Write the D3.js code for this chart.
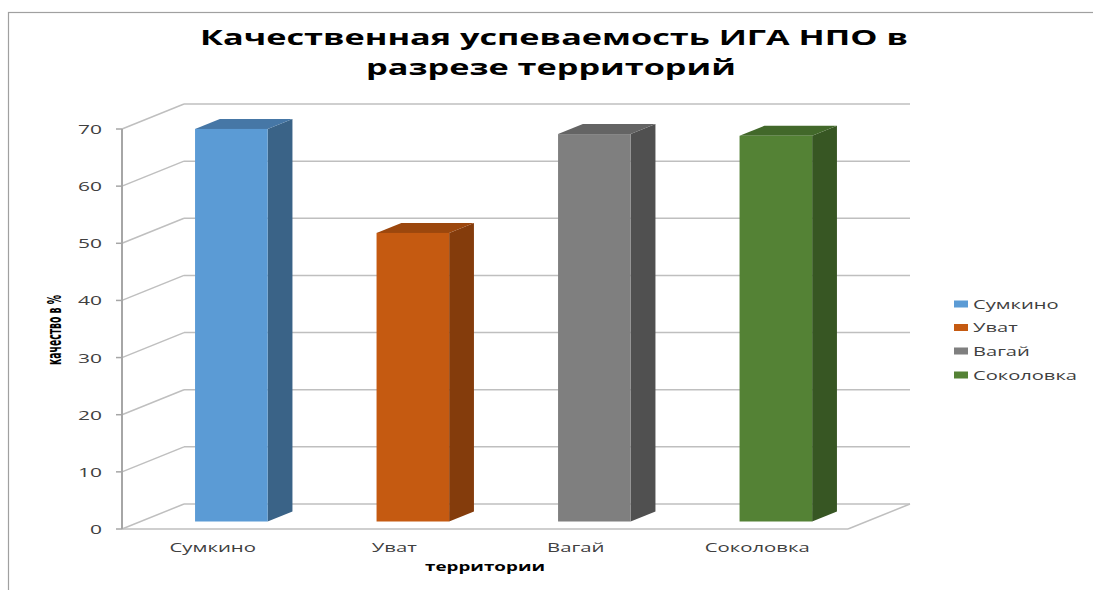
<!DOCTYPE html>
<html>
<head>
<meta charset="utf-8">
<script src="https://cdn.jsdelivr.net/npm/d3@7"></script>
<style>
  html, body { margin: 0; padding: 0; background: #fff; }
  svg { display: block; }
</style>
</head>
<body>
<svg id="chart" width="1093" height="590"></svg>
<script>
// ---- data ----
const categories = ["Сумкино", "Уват", "Вагай", "Соколовка"];
const values = [68.7, 50.5, 67.8, 67.5];
const yTicks = [0, 10, 20, 30, 40, 50, 60, 70];
const titleLines = ["Качественная успеваемость ИГА НПО в", "разрезе территорий"];
const xTitle = "территории";
const yTitle = "качество в %";

// ---- styles ----
const frontColors = ["#5B9BD5", "#C55A11", "#7F7F7F", "#548235"];
const topColors   = ["#4677A6", "#9C470D", "#646464", "#42682A"];
const sideColors  = ["#3A6387", "#843C0C", "#505050", "#375623"];
const gridColor = "#BFBFBF";
const axisColor = "#A6A6A6";
const FONT = "'Open Sans', 'DejaVu Sans', sans-serif";

const svg = d3.select("#chart");

// geometry
const x0 = 122, frontW = 726;
const DX = 62, DY = -25;          // depth offset of the back wall
const dFront = 0.3, dBack = 0.7;  // bar depth fractions

const x = d3.scaleBand().domain(categories).range([x0, x0 + frontW]).padding(0);
const y = d3.scaleLinear().domain([0, 70]).range([529, 129]);

// frame
svg.append("rect").attr("x", 8.5).attr("y", 12.5).attr("width", 1200).attr("height", 700)
  .attr("fill", "none").attr("stroke", "#A0A0A0").attr("stroke-width", 1.2);

// helper: stretch a group of texts uniformly so the reference text matches a target width
function stretchGroup(sel, refIndex, targetW) {
  const nodes = sel.nodes();
  const ref = nodes[refIndex].getComputedTextLength();
  const f = targetW / ref;
  nodes.forEach(n => {
    const w = n.getComputedTextLength();
    n.setAttribute("textLength", w * f);
    n.setAttribute("lengthAdjust", "spacingAndGlyphs");
  });
}

// gridlines: left wall diagonals + back wall horizontals
const grid = svg.append("g");
grid.selectAll("line.diag").data(yTicks).join("line")
  .attr("x1", x0).attr("y1", d => y(d))
  .attr("x2", x0 + DX).attr("y2", d => y(d) + DY)
  .attr("stroke", gridColor).attr("stroke-width", 1.5);
grid.selectAll("line.back").data(yTicks).join("line")
  .attr("x1", x0 + DX).attr("y1", d => y(d) + DY)
  .attr("x2", x0 + frontW + DX).attr("y2", d => y(d) + DY)
  .attr("stroke", gridColor).attr("stroke-width", 1.5);

// floor front edge and right edge
svg.append("line").attr("x1", x0).attr("y1", y(0)).attr("x2", x0 + frontW).attr("y2", y(0))
  .attr("stroke", gridColor).attr("stroke-width", 1.5);
svg.append("line").attr("x1", x0 + frontW).attr("y1", y(0)).attr("x2", x0 + frontW + DX).attr("y2", y(0) + DY)
  .attr("stroke", gridColor).attr("stroke-width", 1.5);

// vertical axis line + ticks
svg.append("line").attr("x1", x0).attr("y1", y(70)).attr("x2", x0).attr("y2", y(0))
  .attr("stroke", axisColor).attr("stroke-width", 2);
svg.selectAll("line.tick").data(yTicks).join("line")
  .attr("x1", x0 - 6).attr("y1", d => y(d)).attr("x2", x0).attr("y2", d => y(d))
  .attr("stroke", axisColor).attr("stroke-width", 1.5);

// tick labels
const tl = svg.append("g").selectAll("text").data(yTicks).join("text")
  .attr("x", 102).attr("y", d => y(d) + 5)
  .attr("text-anchor", "end")
  .attr("font-family", FONT).attr("font-size", 13.5).attr("fill", "#404040")
  .text(d => d);
stretchGroup(tl, 4, 24);

// bars (3D)
const bw = x.bandwidth() * 0.4;
const bars = svg.append("g");
categories.forEach((c, i) => {
  const cx = x(c) + x.bandwidth() / 2;
  const fx = cx - bw / 2 + dFront * DX;
  const fy0 = y(0) + dFront * DY;
  const fyT = y(values[i]) + dFront * DY;
  const ddx = (dBack - dFront) * DX, ddy = (dBack - dFront) * DY;
  bars.append("path")
    .attr("d", `M${fx + bw},${fy0} L${fx + bw + ddx},${fy0 + ddy} L${fx + bw + ddx},${fyT + ddy} L${fx + bw},${fyT} Z`)
    .attr("fill", sideColors[i]);
  bars.append("path")
    .attr("d", `M${fx},${fyT} L${fx + ddx},${fyT + ddy} L${fx + bw + ddx},${fyT + ddy} L${fx + bw},${fyT} Z`)
    .attr("fill", topColors[i]);
  bars.append("rect")
    .attr("x", fx).attr("y", fyT).attr("width", bw).attr("height", fy0 - fyT)
    .attr("fill", frontColors[i]);
});

// category labels
const cl = svg.append("g").selectAll("text").data(categories).join("text")
  .attr("x", d => x(d) + x.bandwidth() / 2).attr("y", 552)
  .attr("text-anchor", "middle")
  .attr("font-family", FONT).attr("font-size", 13).attr("fill", "#404040")
  .text(d => d);
stretchGroup(cl, 3, 105);

// x axis title
const xt = svg.append("text")
  .attr("x", x0 + frontW / 2).attr("y", 571)
  .attr("text-anchor", "middle")
  .attr("font-family", FONT).attr("font-size", 13).attr("font-weight", "bold").attr("fill", "#000")
  .text(xTitle);
stretchGroup(xt, 0, 120);

// y axis title
const yt = svg.append("text")
  .attr("transform", "translate(61,330) rotate(-90)")
  .attr("text-anchor", "middle")
  .attr("font-family", "'Liberation Sans Narrow', 'DejaVu Sans Condensed', 'Liberation Sans', sans-serif")
  .attr("font-size", 19).attr("font-weight", "bold").attr("fill", "#000")
  .text(yTitle);
stretchGroup(yt, 0, 70);

// title
const tt = svg.append("g").selectAll("text").data(titleLines).join("text")
  .attr("x", (d, i) => i === 0 ? 554 : 551)
  .attr("y", (d, i) => i === 0 ? 45 : 75)
  .attr("text-anchor", "middle")
  .attr("font-family", FONT).attr("font-size", 22).attr("font-weight", "bold").attr("fill", "#000")
  .text(d => d);
stretchGroup(tt, 0, 708);

// legend
const lg = svg.append("g");
const legY = [304, 327.5, 351, 375];
lg.selectAll("rect").data(categories).join("rect")
  .attr("x", 954).attr("y", (d, i) => legY[i] - 3.5)
  .attr("width", 14).attr("height", 7)
  .attr("fill", (d, i) => frontColors[i]);
const lt = lg.selectAll("text").data(categories).join("text")
  .attr("x", 973).attr("y", (d, i) => legY[i] + 4.5)
  .attr("font-family", FONT).attr("font-size", 13).attr("fill", "#404040")
  .text(d => d);
stretchGroup(lt, 3, 104);
</script>
</body>
</html>
